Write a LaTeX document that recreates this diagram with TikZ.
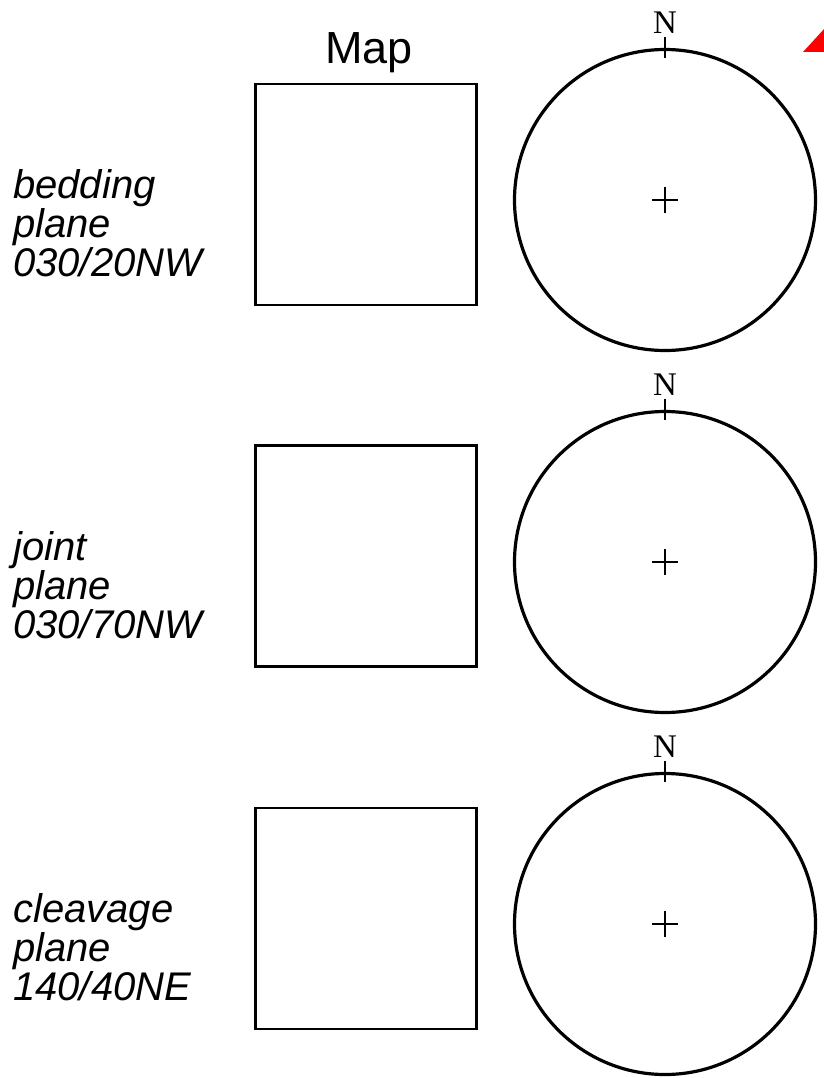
\documentclass[tikz,border=0pt]{standalone}
\usepackage{fontspec}
\setmainfont{Liberation Serif}
\setsansfont{Liberation Sans}
\usetikzlibrary{positioning}

\begin{document}
\begin{tikzpicture}[x=1pt,y=-1pt,
 mapbox/.style={draw,line width=2.8pt,minimum size=221pt,inner sep=0pt},
 net/.style={draw,circle,line width=3.2pt,minimum size=301pt,inner sep=0pt},
 plabel/.style={align=left,anchor=north west,inner sep=0pt,
 font=\sffamily\itshape\fontsize{40}{39}\selectfont},
 nlabel/.style={inner sep=0pt,anchor=base,font=\fontsize{33}{33}\selectfont},
 tick/.style={line width=2.3pt}]
\useasboundingbox (0,0) rectangle (823,1078);

% map squares and stereonets, one row per plane
\node[mapbox] (m1) at (366,194.5) {};
\node[mapbox] (m2) at (366,556) {};
\node[mapbox] (m3) at (366,918.5) {};
\node[net] (s1) at (665,200) {};
\node[net] (s2) at (665,562) {};
\node[net] (s3) at (665,924) {};

\node[anchor=base,inner sep=0pt,font=\sffamily\fontsize{45}{45}\selectfont]
 (map) at (369,64) {Map};

\node[plabel] (l1) at (13,169) {bedding\\plane\\030/20NW};
\node[plabel] (l2) at (13,531) {joint\\plane\\030/70NW};
\node[plabel] (l3) at (13,893) {cleavage\\plane\\140/40NE};

% north ticks and centre crosses
\node[nlabel,above=14pt of s1.north,anchor=base] (n1) {N};
\node[nlabel,above=14pt of s2.north,anchor=base] (n2) {N};
\node[nlabel,above=14pt of s3.north,anchor=base] (n3) {N};
\draw[tick] ([yshift=11pt]s1.north) -- ([yshift=-10pt]s1.north);
\draw[tick] ([yshift=11pt]s2.north) -- ([yshift=-10pt]s2.north);
\draw[tick] ([yshift=11pt]s3.north) -- ([yshift=-10pt]s3.north);
\draw[tick] ([xshift=-13pt]s1.center) -- ([xshift=13pt]s1.center)
 ([yshift=-13pt]s1.center) -- ([yshift=13pt]s1.center);
\draw[tick] ([xshift=-13pt]s2.center) -- ([xshift=13pt]s2.center)
 ([yshift=-13pt]s2.center) -- ([yshift=13pt]s2.center);
\draw[tick] ([xshift=-13pt]s3.center) -- ([xshift=13pt]s3.center)
 ([yshift=-13pt]s3.center) -- ([yshift=13pt]s3.center);

\fill[red] (803,52) -- (825,28) -- (847,52) -- cycle;
\end{tikzpicture}
\end{document}
